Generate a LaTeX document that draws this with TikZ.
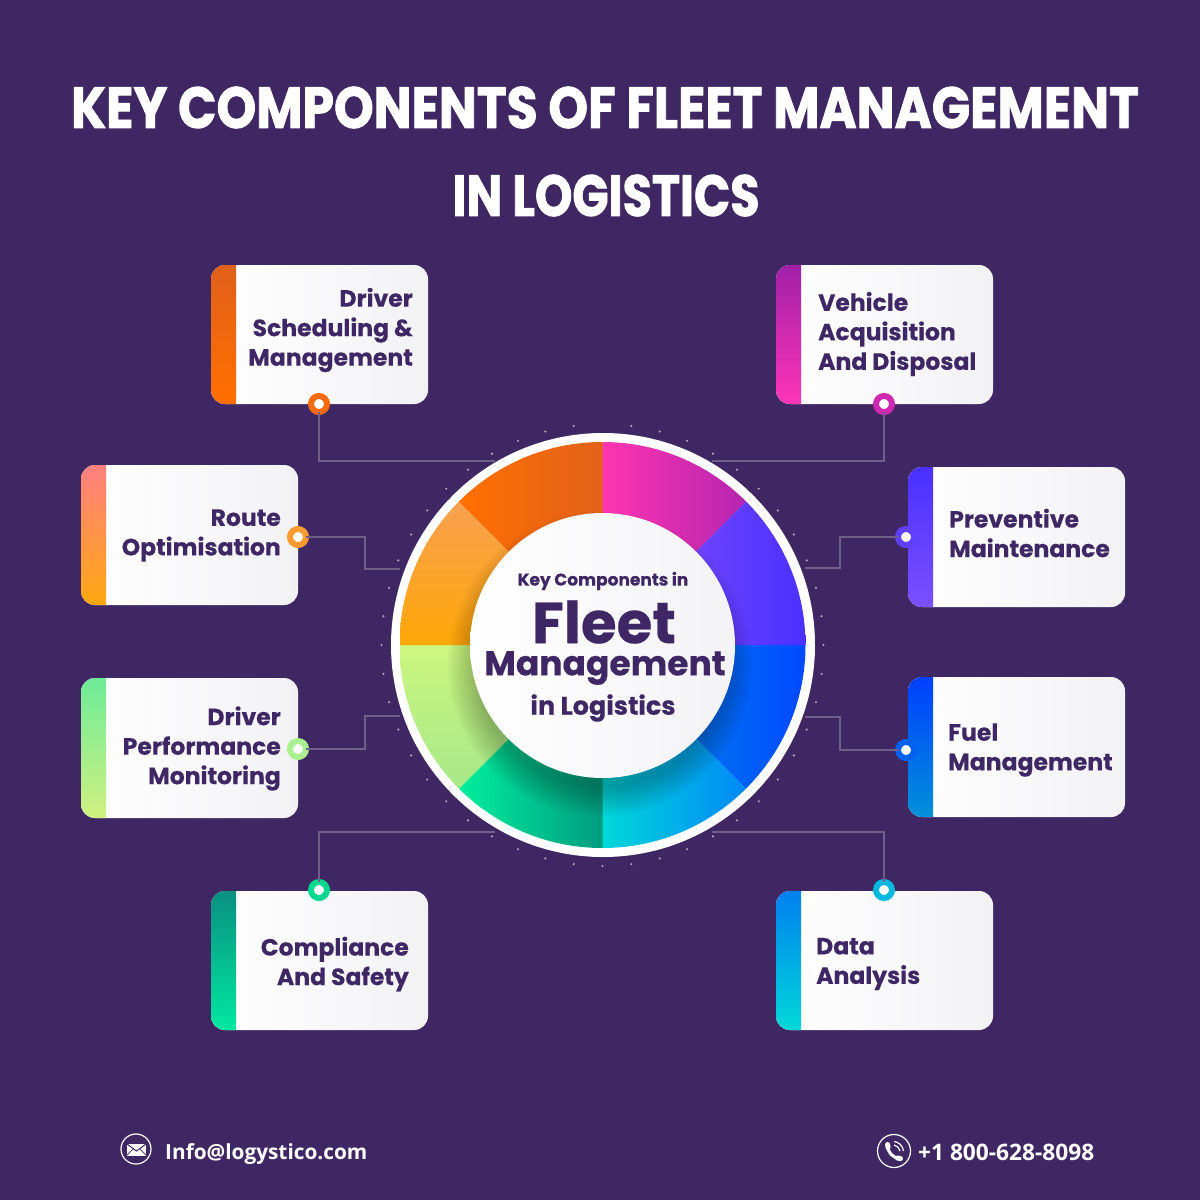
\documentclass[tikz,border=0pt]{standalone}
\usepackage{graphicx}
\usepackage{fontspec}
\setmainfont{Poppins}[BoldFeatures={FakeBold=0.35}]
\newfontfamily\titlefont{Poppins}[BoldFeatures={FakeBold=1.6}]
\newfontfamily\contactfont{Open Sans}
\usetikzlibrary{calc}
\definecolor{bgpurple}{HTML}{3F2763}
\definecolor{inkpurple}{HTML}{3E2764}
\definecolor{wirecol}{HTML}{6E6088}
\definecolor{boxgrey}{HTML}{F2F2F5}
\definecolor{hubgrey}{HTML}{F3F3F6}
\definecolor{cA}{HTML}{FF35B0}\definecolor{cB}{HTML}{B525B0}
\definecolor{cC}{HTML}{7045FF}\definecolor{cD}{HTML}{4A30FF}
\definecolor{cE}{HTML}{0078F0}\definecolor{cF}{HTML}{0048FF}
\definecolor{cG}{HTML}{00D8D8}\definecolor{cH}{HTML}{0088F8}
\definecolor{cI}{HTML}{00EE9C}\definecolor{cJ}{HTML}{009C80}
\definecolor{cK}{HTML}{CCF680}\definecolor{cL}{HTML}{A6E888}
\definecolor{cM}{HTML}{FFA808}\definecolor{cN}{HTML}{F8A050}
\definecolor{cO}{HTML}{FF7000}\definecolor{cP}{HTML}{E2611A}
\definecolor{sA}{HTML}{E0601A}\definecolor{rA}{HTML}{F86A10}
\definecolor{sB}{HTML}{FF8080}\definecolor{sBb}{HTML}{FFA810}\definecolor{rB}{HTML}{FF9A30}
\definecolor{sC}{HTML}{6EEB98}\definecolor{sCb}{HTML}{D0F080}\definecolor{rC}{HTML}{A8F090}
\definecolor{sD}{HTML}{0A9080}\definecolor{sDb}{HTML}{00E8A0}\definecolor{rD}{HTML}{00D890}
\definecolor{sE}{HTML}{A020A8}\definecolor{sEb}{HTML}{FF35B8}\definecolor{rE}{HTML}{D028B0}
\definecolor{sF}{HTML}{4A30FF}\definecolor{sFb}{HTML}{7A50FF}\definecolor{rF}{HTML}{6040FF}
\definecolor{sG}{HTML}{0040FF}\definecolor{sGb}{HTML}{0090D8}\definecolor{rG}{HTML}{0060F0}
\definecolor{sH}{HTML}{0080F0}\definecolor{sHb}{HTML}{00D8D8}\definecolor{rH}{HTML}{00B8E0}
\tikzset{
  x=1pt,y=-1pt,
  titletext/.style={text=white,font=\titlefont\fontsize{58}{58}\selectfont\bfseries,inner sep=0pt},
  boxtext/.style={text=inkpurple,font=\fontsize{23.5}{29.5}\selectfont\bfseries,inner sep=0pt},
  hubtext/.style={text=inkpurple,inner sep=0pt},
  contact/.style={text=white,font=\contactfont\fontsize{#1}{#1}\selectfont\bfseries,inner sep=0pt},
  iconring/.style={circle,draw=white,line width=1.2pt,inner sep=0pt},
  wire/.style={draw=wirecol,line width=2pt},
  dotring/.style={circle,fill=white,inner sep=0pt,outer sep=0pt,minimum size=16pt,draw=#1,line width=6pt},
}
% #1 name, #2 x0, #3 y0, #4 x1, #5 y1, #6 top colour, #7 bottom colour
\newcommand{\compbox}[7]{%
  \path[rounded corners=14pt,left color=white,right color=boxgrey] (#2,#3) rectangle (#4,#5);
  \coordinate (#1) at (#2,#3);
  \begin{scope}
    \clip[rounded corners=14pt] (#2,#3) rectangle (#4,#5);
    \shade[top color=#6,bottom color=#7] (#2,#3) rectangle ({#2+25},#5);
  \end{scope}}
% #1 a1, #2 a2, #3 shade options, #4 bbox corner, #5 bbox corner
\newcommand{\wheelsector}[5]{%
  \begin{scope}
    \clip (602.5,645) -- ($(602.5,645)+(#1:320pt)$) -- ($(602.5,645)+(#2:320pt)$) -- cycle;
    \shade[#3] #4 rectangle #5;
  \end{scope}}
\begin{document}
\begin{tikzpicture}
\useasboundingbox (0,0) rectangle (1200,1200);
\fill[bgpurple] (0,0) rectangle (1200,1200);

% title
\node[titletext] (title1) at (605,107.5) {\scalebox{0.87}[1]{KEY COMPONENTS OF FLEET MANAGEMENT}};
\node[titletext] (title2) at (606,195.5) {\scalebox{0.82}[1]{IN LOGISTICS}};

% boxes
\compbox{boxA}{211}{265}{428}{404}{sA}{cO}
\compbox{boxB}{81}{465}{298}{605}{sB}{sBb}
\compbox{boxC}{81}{678}{298}{818}{sC}{sCb}
\compbox{boxD}{211}{891}{428}{1030}{sD}{sDb}
\compbox{boxE}{776}{265}{993}{404}{sE}{sEb}
\compbox{boxF}{908}{467}{1125}{607}{sF}{sFb}
\compbox{boxG}{908}{677}{1125}{817}{sG}{sGb}
\compbox{boxH}{776}{891}{993}{1030}{sH}{sHb}

% box labels
\node[boxtext,anchor=east,align=right] (tA) at (413,330) {Driver\\Scheduling \&\\Management};
\node[boxtext,anchor=east,align=right] (tB) at (281,535.5) {Route\\Optimisation};
\node[boxtext,anchor=east,align=right] (tC) at (281,748.5) {Driver\\Performance\\Monitoring};
\node[boxtext,anchor=east,align=right] (tD) at (409,964) {Compliance\\And Safety};
\node[boxtext,anchor=west,align=left] (tE) at (818,334) {Vehicle\\Acquisition\\And Disposal};
\node[boxtext,anchor=west,align=left] (tF) at (949,533) {Preventive\\Maintenance};
\node[boxtext,anchor=west,align=left] (tG) at (948,750) {Fuel\\Management};
\node[boxtext,anchor=west,align=left] (tH) at (816,964) {Data\\Analysis};

% connector dots
\node[dotring=rA] (dA) at (319,404) {};
\node[dotring=rB] (dB) at (298,537) {};
\node[dotring=rC] (dC) at (298,749) {};
\node[dotring=rD] (dD) at (319,890) {};
\node[dotring=rE] (dE) at (884,404) {};
\node[dotring=rF] (dF) at (906,537) {};
\node[dotring=rG] (dG) at (906,750) {};
\node[dotring=rH] (dH) at (884,890) {};

% connector ends
\coordinate (eA) at (495,461);
\coordinate (vB) at (365,569); \coordinate (eB) at (400,569);
\coordinate (vC) at (365,716); \coordinate (eC) at (400,716);
\coordinate (eD) at (495,832);
\coordinate (eE) at (712,461);
\coordinate (vF) at (840,568); \coordinate (eF) at (805,568);
\coordinate (vG) at (840,717); \coordinate (eG) at (805,717);
\coordinate (eH) at (712,832);

\draw[wire] (dA) |- (eA);
\draw[wire] (dB) -| (vB) -- (eB);
\draw[wire] (dC) -| (vC) -- (eC);
\draw[wire] (dD) |- (eD);
\draw[wire] (dE) |- (eE);
\draw[wire] (dF) -| (vF) -- (eF);
\draw[wire] (dG) -| (vG) -- (eG);
\draw[wire] (dH) |- (eH);

% sparkle dots round the wheel
\foreach \a in {0,7.5,...,352.5}{
  \ifdim\a pt=90pt\relax\else
    \fill[white,opacity=.6] ($(602.5,645)+(\a:221pt)$) circle (1.2pt);
  \fi
}

% wheel
\node[circle,fill=white,inner sep=0pt,outer sep=0pt,minimum size=424pt] (wheel) at (603,645) {};
\begin{scope}
  \clip (602.5,645) circle (203pt);
  \wheelsector{90}{45}{left color=cA,right color=cB}{(602,442)}{(746,560)}
  \wheelsector{45}{0}{left color=cC,right color=cD}{(685,500)}{(806,646)}
  \wheelsector{0}{-45}{left color=cE,right color=cF}{(685,645)}{(806,790)}
  \wheelsector{-45}{-90}{left color=cG,right color=cH}{(602,730)}{(746,848)}
  \wheelsector{-90}{-135}{left color=cI,right color=cJ}{(459,730)}{(603,848)}
  \wheelsector{-135}{-180}{top color=cK,bottom color=cL}{(400,645)}{(520,790)}
  \wheelsector{180}{135}{top color=cN,bottom color=cM}{(400,500)}{(520,646)}
  \wheelsector{135}{90}{left color=cO,right color=cP}{(459,442)}{(603,560)}
  \foreach \r in {125,128,...,152}{
    \fill[black,opacity=.026] (600,664) circle (\r pt);
  }
\end{scope}

% hub
\node[circle,left color=white,right color=hubgrey,inner sep=0pt,outer sep=0pt,minimum size=265pt] (hub) at (602.5,645.5) {};
\node[hubtext,font=\fontsize{17}{17}\selectfont\bfseries] (hubA) at (603,581) {Key Components in};
\node[hubtext,font=\fontsize{58}{58}\selectfont\bfseries] (hubB) at (604,622) {Fleet};
\node[hubtext,font=\fontsize{34.5}{34.5}\selectfont\bfseries] (hubC) at (605,668) {Management};
\node[hubtext,font=\fontsize{25.5}{25.5}\selectfont\bfseries] (hubD) at (603,708) {in Logistics};

% footer: e-mail
\node[iconring,minimum size=30pt] (mailIcon) at (136,1149) {};
\fill[white] (127,1143.5) rectangle (146,1155.5);
\draw[bgpurple,line width=1pt] (127,1144) -- (136.5,1151) -- (146,1144);
\draw[bgpurple,line width=.7pt] (127,1155) -- (133,1149) (146,1155) -- (140,1149);
\node[contact=20.8,anchor=west] (mailText) at (165,1154.5) {Info@logystico.com};

% footer: phone
\node[iconring,minimum size=33pt] (phoneIcon) at (894,1151) {};
\draw[white,line width=3pt,line cap=round] (887.5,1144.5) .. controls (887,1152) and (893,1158.5) .. (900.5,1158.5);
\draw[white,line width=5pt,line cap=round] (887.6,1144.5) -- (888,1147.5) (897.5,1158) -- (900.5,1158.5);
\draw[white,line width=1.2pt] (894,1145) .. controls (897,1145.5) and (899.5,1148) .. (900,1151);
\draw[white,line width=1.2pt] (894,1141.5) .. controls (899,1142) and (903,1146) .. (903.5,1151);
\node[contact=22.7,anchor=west] (phoneText) at (918,1152.5) {+1 800-628-8098};
\end{tikzpicture}
\end{document}
